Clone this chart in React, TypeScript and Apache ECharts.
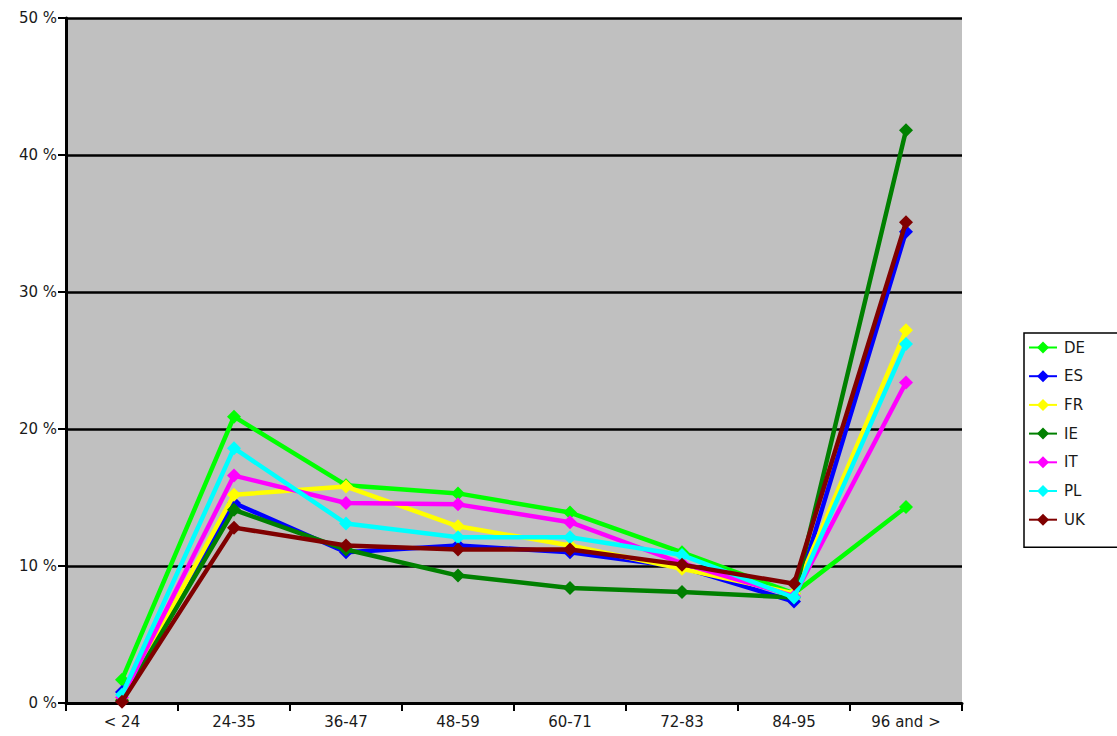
import React, { useEffect, useRef } from "react";
import * as echarts from "echarts";

const categories = ["< 24", "24-35", "36-47", "48-59", "60-71", "72-83", "84-95", "96 and >"];
const seriesNames = ["DE", "ES", "FR", "IE", "IT", "PL", "UK"];
const colors = ["#00ff00", "#0000ff", "#ffff00", "#008000", "#ff00ff", "#00ffff", "#800000"];
const DE = [1.7, 20.9, 15.9, 15.3, 13.9, 11.0, 8.0, 14.3];
const ES = [0.8, 14.6, 11.0, 11.5, 11.0, 9.9, 7.4, 34.4];
const FR = [0.3, 15.2, 15.8, 12.9, 11.5, 9.8, 8.0, 27.2];
const IE = [0.2, 14.1, 11.2, 9.3, 8.4, 8.1, 7.7, 41.8];
const IT = [0.4, 16.6, 14.6, 14.5, 13.2, 10.2, 7.8, 23.4];
const PL = [0.6, 18.6, 13.1, 12.1, 12.1, 10.8, 7.7, 26.2];
const UK = [0.1, 12.8, 11.5, 11.2, 11.2, 10.1, 8.7, 35.1];
const seriesData = [DE, ES, FR, IE, IT, PL, UK];
const yTicks = [0, 10, 20, 30, 40, 50];

export default function App() {
  const ref = useRef<HTMLDivElement>(null);
  useEffect(() => {
    const chart = echarts.init(ref.current!, null, { renderer: "svg" });
    const font = "DejaVu Sans";
    chart.setOption({
      animation: false,
      backgroundColor: "#ffffff",
      textStyle: { fontFamily: font },
      grid: {
        left: 66,
        right: 155,
        top: 18,
        bottom: 33,
        show: true,
        backgroundColor: "#c0c0c0",
        borderWidth: 0,
      },
      legend: {
        orient: "vertical",
        left: 1024,
        top: 333,
        width: 93,
        data: seriesNames,
        itemWidth: 28,
        itemHeight: 15,
        itemGap: 13.7,
        borderColor: "#000",
        borderWidth: 1.5,
        padding: [7, 40, 20, 4],
        textStyle: { fontFamily: font, fontSize: 15, color: "#1a1a1a", padding: [0, 0, 0, 2] },
      },
      xAxis: {
        type: "category",
        data: categories,
        boundaryGap: true,
        axisLine: { lineStyle: { color: "#000", width: 3 } },
        axisTick: { show: true, length: 8, lineStyle: { color: "#000", width: 2 } },
        axisLabel: { fontFamily: font, fontSize: 15, color: "#1a1a1a", margin: 11 },
        splitLine: { show: false },
      },
      yAxis: {
        type: "value",
        min: yTicks[0],
        max: yTicks[yTicks.length - 1],
        interval: 10,
        axisLine: { show: true, lineStyle: { color: "#000", width: 3 } },
        axisTick: { show: true, length: 8, lineStyle: { color: "#000", width: 2 } },
        axisLabel: {
          fontFamily: font,
          fontSize: 15,
          color: "#1a1a1a",
          margin: 9,
          formatter: (v: number) => `${v} %`,
        },
        splitLine: { show: true, lineStyle: { color: "#000", width: 2.5 } },
      },
      series: seriesNames.map((name, i) => ({
        name,
        type: "line",
        data: seriesData[i],
        symbol: "diamond",
        symbolSize: 14,
        showSymbol: true,
        lineStyle: { color: colors[i], width: 4.5 },
        itemStyle: { color: colors[i] },
        z: 2 + i,
      })),
    });
    return () => chart.dispose();
  }, []);
  return (
    <div
      ref={ref}
      style={{ position: "fixed", left: 0, top: 0, width: 1117, height: 736 }}
    />
  );
}
